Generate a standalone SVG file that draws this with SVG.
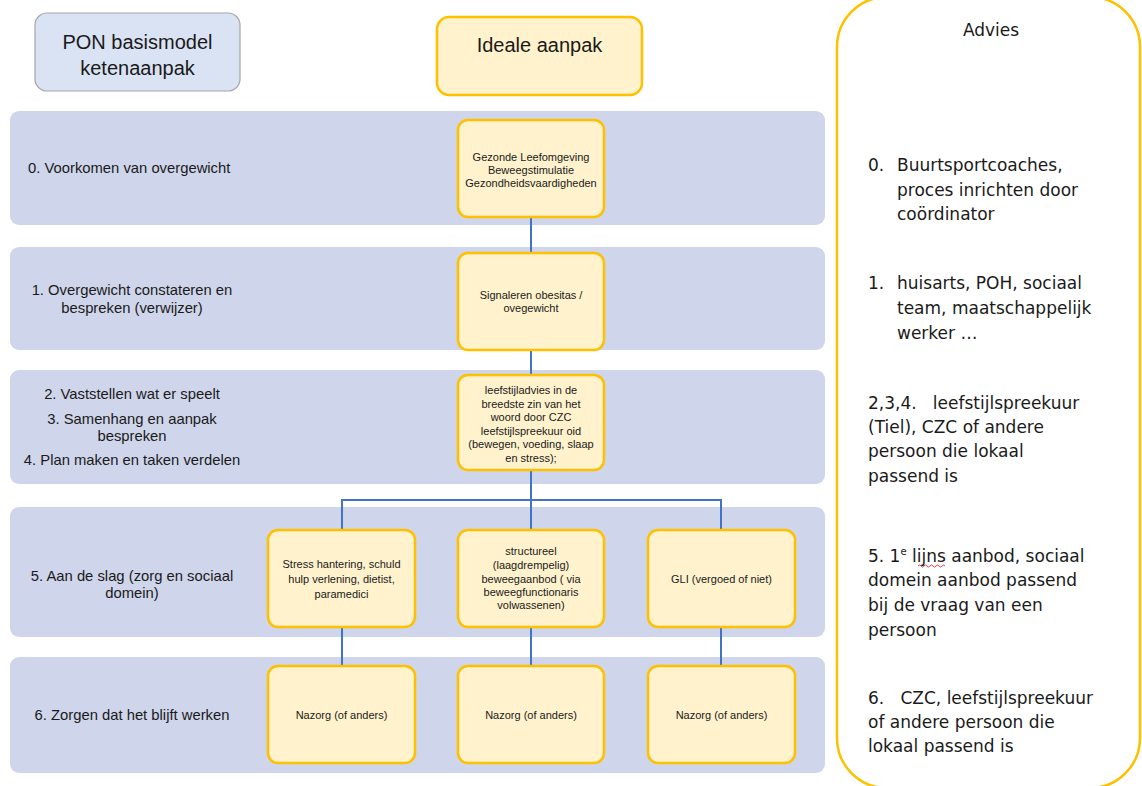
<svg xmlns="http://www.w3.org/2000/svg" width="1142" height="786" viewBox="0 0 1142 786">
<style>
.band{fill:#cfd5ea;}
.node{fill:#fff2cc;stroke:#ffc000;stroke-width:2.5;}
.lbl{font-family:"Liberation Sans",Arial,sans-serif;font-size:14.8px;fill:#1a1a1a;}
.nt{font-family:"Liberation Sans",Arial,sans-serif;font-size:11px;fill:#1a1a1a;text-anchor:middle;}
.adv{font-family:"DejaVu Sans",Verdana,sans-serif;font-size:17px;fill:#1a1a1a;}
.hd{font-family:"Liberation Sans",Arial,sans-serif;font-size:20px;fill:#1a1a1a;text-anchor:middle;}
.conn{stroke:#4472c4;stroke-width:2;fill:none;}
</style>
<rect width="1142" height="786" fill="#ffffff"/>
<g id="bands">
<rect id="band0" class="band" x="10" y="111" width="815" height="114" rx="9"/>
<rect id="band1" class="band" x="10" y="247" width="815" height="103" rx="9"/>
<rect id="band2" class="band" x="10" y="370" width="815" height="114" rx="9"/>
<rect id="band3" class="band" x="10" y="507" width="815" height="130" rx="9"/>
<rect id="band4" class="band" x="10" y="657" width="815" height="116" rx="9"/>
</g>
<g id="band-labels" class="lbl">
<text x="28" y="173">0. Voorkomen van overgewicht</text>
<text x="132" y="295" text-anchor="middle">1. Overgewicht constateren en</text>
<text x="132" y="313" text-anchor="middle">bespreken (verwijzer)</text>
<text x="132" y="399" text-anchor="middle">2. Vaststellen wat er speelt</text>
<text x="132" y="424" text-anchor="middle">3. Samenhang en aanpak</text>
<text x="132" y="441" text-anchor="middle">bespreken</text>
<text x="132" y="465" text-anchor="middle">4. Plan maken en taken verdelen</text>
<text x="132" y="581" text-anchor="middle">5. Aan de slag (zorg en sociaal</text>
<text x="132" y="598" text-anchor="middle">domein)</text>
<text x="132" y="720" text-anchor="middle">6. Zorgen dat het blijft werken</text>
</g>
<g id="pon">
<rect x="35" y="13" width="205" height="78" rx="12" fill="#dae3f3" stroke="#a6a6a6" stroke-width="1.2"/>
<text class="hd" x="137.5" y="49">PON basismodel</text>
<text class="hd" x="137.5" y="75">ketenaanpak</text>
</g>
<g id="ideale">
<rect class="node" x="437" y="17" width="205" height="78" rx="12"/>
<text class="hd" x="539.5" y="52">Ideale aanpak</text>
</g>
<g id="connectors" class="conn">
<line x1="531" y1="217" x2="531" y2="253"/>
<line x1="531" y1="350" x2="531" y2="375"/>
<line x1="531" y1="470" x2="531" y2="529"/>
<polyline points="342,529 342,500 721,500 721,529"/>
<line x1="342" y1="627" x2="342" y2="666"/>
<line x1="531" y1="627" x2="531" y2="666"/>
<line x1="721" y1="627" x2="721" y2="666"/>
</g>
<g id="n0">
<rect class="node" x="458" y="120" width="146" height="97" rx="10"/>
<text class="nt" x="531" y="161">Gezonde Leefomgeving</text>
<text class="nt" x="531" y="174">Beweegstimulatie</text>
<text class="nt" x="531" y="187">Gezondheidsvaardigheden</text>
</g>
<g id="n1">
<rect class="node" x="458" y="253" width="146" height="97" rx="10"/>
<text class="nt" x="531" y="299">Signaleren obesitas /</text>
<text class="nt" x="531" y="312">ovegewicht</text>
</g>
<g id="n2">
<rect class="node" x="458" y="375" width="146" height="95" rx="10"/>
<text class="nt" x="531" y="394">leefstijladvies in de</text>
<text class="nt" x="531" y="407.5">breedste zin van het</text>
<text class="nt" x="531" y="421">woord door CZC</text>
<text class="nt" x="531" y="434.5">leefstijlspreekuur oid</text>
<text class="nt" x="531" y="448">(bewegen, voeding, slaap</text>
<text class="nt" x="531" y="461.5">en stress);</text>
</g>
<g id="n3a">
<rect class="node" x="268" y="530" width="147" height="97" rx="10"/>
<text class="nt" x="341.5" y="568">Stress hantering, schuld</text>
<text class="nt" x="341.5" y="583">hulp verlening, dietist,</text>
<text class="nt" x="341.5" y="598">paramedici</text>
</g>
<g id="n3b">
<rect class="node" x="458" y="530" width="146" height="97" rx="10"/>
<text class="nt" x="531" y="555">structureel</text>
<text class="nt" x="531" y="569">(laagdrempelig)</text>
<text class="nt" x="531" y="583">beweegaanbod ( via</text>
<text class="nt" x="531" y="596">beweegfunctionaris</text>
<text class="nt" x="531" y="609">volwassenen)</text>
</g>
<g id="n3c">
<rect class="node" x="648" y="530" width="147" height="97" rx="10"/>
<text class="nt" x="721.5" y="583">GLI (vergoed of niet)</text>
</g>
<g id="n4a">
<rect class="node" x="268" y="666" width="147" height="97" rx="10"/>
<text class="nt" x="341.5" y="719">Nazorg (of anders)</text>
</g>
<g id="n4b">
<rect class="node" x="458" y="666" width="146" height="97" rx="10"/>
<text class="nt" x="531" y="719">Nazorg (of anders)</text>
</g>
<g id="n4c">
<rect class="node" x="648" y="666" width="147" height="97" rx="10"/>
<text class="nt" x="721.5" y="719">Nazorg (of anders)</text>
</g>
<g id="advies">
<rect x="837" y="-3" width="303" height="791" rx="50" fill="#ffffff" stroke="#ffc000" stroke-width="2.5"/>
<text class="adv" x="991" y="36" text-anchor="middle">Advies</text>
<g class="adv">
<text x="868" y="171">0.</text>
<text x="897" y="171">Buurtsportcoaches,</text>
<text x="897" y="196">proces inrichten door</text>
<text x="897" y="220">coördinator</text>
<text x="868" y="289">1.</text>
<text x="897" y="289">huisarts, POH, sociaal</text>
<text x="897" y="314">team, maatschappelijk</text>
<text x="897" y="339">werker …</text>
<text x="868" y="409" xml:space="preserve">2,3,4.   leefstijlspreekuur</text>
<text x="868" y="433">(Tiel), CZC of andere</text>
<text x="868" y="457">persoon die lokaal</text>
<text x="868" y="482">passend is</text>
<text x="868" y="562">5. 1<tspan font-size="10" dy="-7">e</tspan><tspan dy="7"> lijns aanbod, sociaal</tspan></text>
<text x="868" y="586">domein aanbod passend</text>
<text x="868" y="611">bij de vraag van een</text>
<text x="868" y="636">persoon</text>
<text x="868" y="704" xml:space="preserve">6.   CZC, leefstijlspreekuur</text>
<text x="868" y="728">of andere persoon die</text>
<text x="868" y="752">lokaal passend is</text>
</g>
<path d="M918,566 q1.5,-2 3,0 t3,0 t3,0 t3,0 t3,0 t3,0 t3,0 t3,0 t3,0" fill="none" stroke="#e03030" stroke-width="0.9"/>
</g>
</svg>
